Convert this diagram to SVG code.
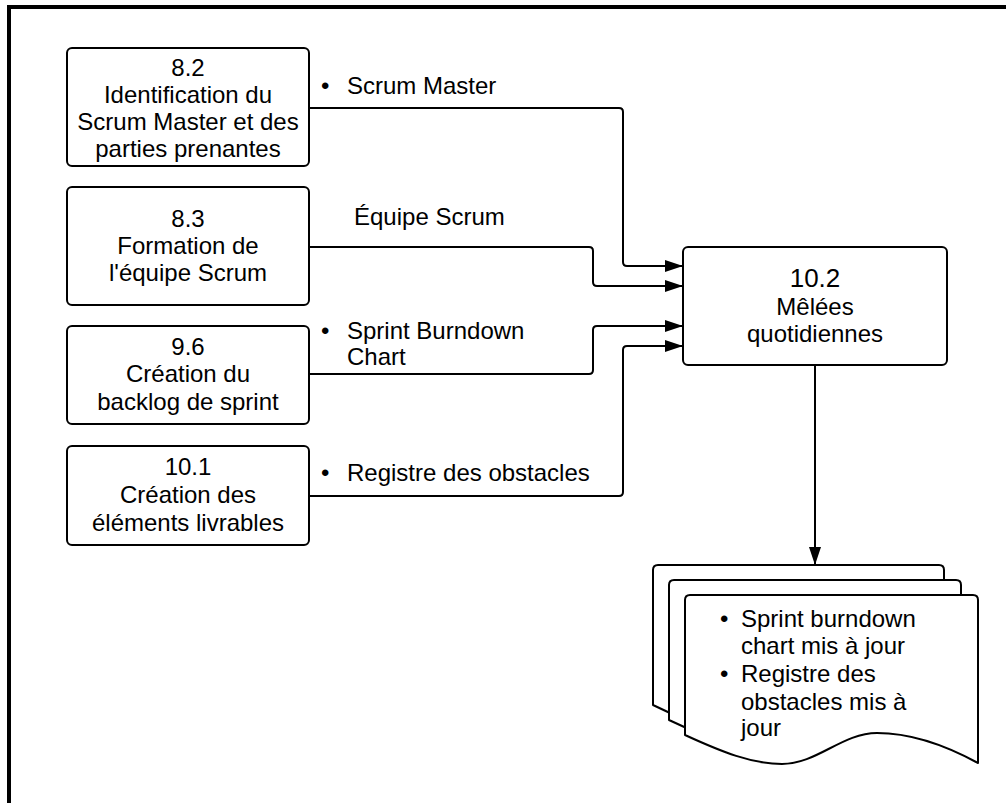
<svg xmlns="http://www.w3.org/2000/svg" width="1006" height="803" viewBox="0 0 1006 803">
  <style>
    .box { fill: #ffffff; stroke: #000000; stroke-width: 2; }
    .doc { fill: #ffffff; stroke: #000000; stroke-width: 2; stroke-linejoin: round; }
    .wire { fill: none; stroke: #000000; stroke-width: 2; }
    text { font-family: "Liberation Sans", Arial, sans-serif; font-size: 24px; fill: #000000; }
    .c { text-anchor: middle; }
  </style>
  <defs>
    <marker id="arrow" markerUnits="userSpaceOnUse" markerWidth="18" markerHeight="12" refX="18" refY="6" orient="auto">
      <path d="M0,0 L18,6 L0,12 Z" fill="#000000"/>
    </marker>
  </defs>

  <rect width="1006" height="803" fill="#ffffff"/>
  <!-- frame -->
  <path d="M9,803 V7 H1006" fill="none" stroke="#000000" stroke-width="4"/>

  <g id="n82">
    <rect class="box" x="67" y="48" width="242" height="118" rx="5"/>
    <text class="c" x="188" y="76">8.2</text>
    <text class="c" x="188" y="103">Identification du</text>
    <text class="c" x="188" y="130">Scrum Master et des</text>
    <text class="c" x="188" y="157">parties prenantes</text>
  </g>

  <g id="n83">
    <rect class="box" x="67" y="187" width="242" height="118" rx="5"/>
    <text class="c" x="188" y="227">8.3</text>
    <text class="c" x="188" y="254">Formation de</text>
    <text class="c" x="188" y="281">l'équipe Scrum</text>
  </g>

  <g id="n96">
    <rect class="box" x="67" y="326" width="242" height="98" rx="5"/>
    <text class="c" x="188" y="355">9.6</text>
    <text class="c" x="188" y="382">Création du</text>
    <text class="c" x="188" y="410">backlog de sprint</text>
  </g>

  <g id="n101">
    <rect class="box" x="67" y="446" width="242" height="99" rx="5"/>
    <text class="c" x="188" y="475">10.1</text>
    <text class="c" x="188" y="503">Création des</text>
    <text class="c" x="188" y="531">éléments livrables</text>
  </g>

  <g id="n102">
    <rect class="box" x="683" y="247" width="264" height="118" rx="5"/>
    <text class="c" x="815" y="287" style="font-size:26px">10.2</text>
    <text class="c" x="815" y="315">Mêlées</text>
    <text class="c" x="815" y="342">quotidiennes</text>
  </g>

  <g id="outputs">
    <path class="doc" d="M653,570 Q653,565 658,565 H939 Q944,565 944,570 V733 C911,715 876,703 843,703 C808,703 783,734 748,734 C718,734 688,722 653,705 Z"/>
    <path class="doc" d="M669,585 Q669,580 674,580 H956 Q961,580 961,585 V748 C928,730 893,718 860,718 C825,718 800,749 765,749 C735,749 705,737 669,720 Z"/>
    <path class="doc" d="M685,600 Q685,595 690,595 H973 Q978,595 978,600 V763 C945,745 910,733 877,733 C842,733 817,764 782,764 C752,764 722,752 685,735 Z"/>
    <text x="720" y="627">•</text>
    <text x="741" y="627">Sprint burndown</text>
    <text x="741" y="654">chart mis à jour</text>
    <text x="720" y="682">•</text>
    <text x="741" y="682">Registre des</text>
    <text x="741" y="710">obstacles mis à</text>
    <text x="741" y="736">jour</text>
  </g>

  <g id="connectors">
    <path class="wire" d="M309,108 H619 Q623,108 623,112 V262 Q623,266 627,266 H683" marker-end="url(#arrow)"/>
    <path class="wire" d="M309,247 H589 Q593,247 593,251 V282 Q593,286 597,286 H683" marker-end="url(#arrow)"/>
    <path class="wire" d="M309,374 H589 Q593,374 593,370 V330 Q593,326 597,326 H683" marker-end="url(#arrow)"/>
    <path class="wire" d="M309,496 H619 Q623,496 623,492 V350 Q623,346 627,346 H683" marker-end="url(#arrow)"/>
    <path class="wire" d="M815,365 V565" marker-end="url(#arrow)"/>
    <text x="321" y="94">•</text>
    <text x="347" y="94">Scrum Master</text>
    <text x="354" y="225">Équipe Scrum</text>
    <text x="321" y="339">•</text>
    <text x="347" y="339">Sprint Burndown</text>
    <text x="347" y="365">Chart</text>
    <text x="321" y="481">•</text>
    <text x="347" y="481">Registre des obstacles</text>
  </g>
</svg>
